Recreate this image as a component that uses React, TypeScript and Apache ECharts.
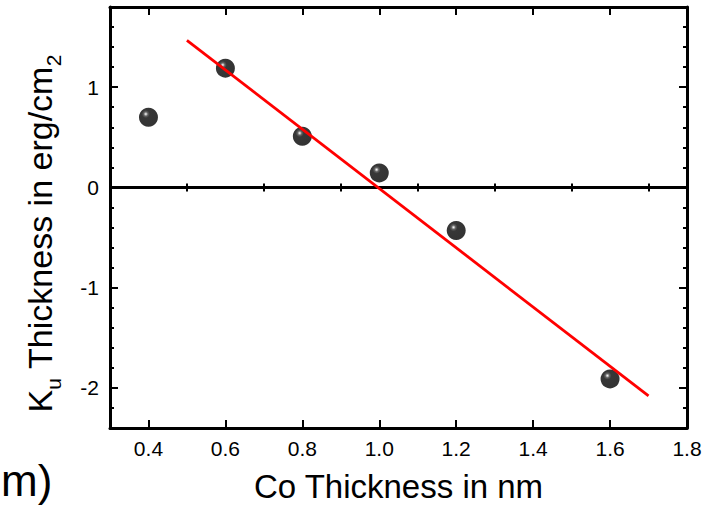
import React, { useEffect, useRef } from "react";
import * as echarts from "echarts";

// Data
const coThickness = [0.4, 0.6, 0.8, 1.0, 1.2, 1.6];
const kuThickness = [0.7, 1.19, 0.51, 0.145, -0.43, -1.91];
const fitX = [0.5, 1.7];
const fitY = [1.468, -2.08];

const xMajorTicks = [0.4, 0.6, 0.8, 1.0, 1.2, 1.4, 1.6, 1.8];
const xMinorTicks = [0.5, 0.7, 0.9, 1.1, 1.3, 1.5, 1.7];
const yMajorTicks = [-2, -1, 0, 1];
const yMinorTicks = [-2.2, -1.8, -1.6, -1.4, -1.2, -0.8, -0.6, -0.4, -0.2, 0.2, 0.4, 0.6, 0.8, 1.2, 1.4, 1.6];

const X_MIN = 0.3;
const X_MAX = 1.8;
const Y_MIN = -2.4;
const Y_MAX = 1.8;

const FONT = '"Liberation Sans", Arial, Helvetica, sans-serif';

export default function App() {
  const ref = useRef<HTMLDivElement>(null);

  useEffect(() => {
    if (!ref.current) return;
    const chart = echarts.init(ref.current, undefined, { renderer: "svg" });

    const frameLine = { show: true, onZero: false, lineStyle: { color: "#000", width: 3 } };
    const noLine = { show: false };

    const mkX = (position: string, ticks: number[], len: number, labels: boolean, line: boolean) => ({
      type: "value",
      position,
      min: X_MIN,
      max: X_MAX,
      axisLine: line ? frameLine : noLine,
      axisTick: {
        show: true,
        inside: true,
        length: len,
        customValues: ticks,
        lineStyle: { color: "#000", width: 2 },
      },
      axisLabel: labels
        ? {
            show: true,
            customValues: ticks,
            formatter: (v: number) => v.toFixed(1),
            fontSize: 21,
            fontFamily: FONT,
            color: "#000",
            margin: 10,
          }
        : { show: false },
      splitLine: { show: false },
    });

    const mkY = (position: string, ticks: number[], len: number, labels: boolean, line: boolean) => ({
      type: "value",
      position,
      min: Y_MIN,
      max: Y_MAX,
      axisLine: line ? frameLine : noLine,
      axisTick: {
        show: true,
        inside: true,
        length: len,
        customValues: ticks,
        lineStyle: { color: "#000", width: 2 },
      },
      axisLabel: labels
        ? {
            show: true,
            customValues: ticks,
            formatter: (v: number) => String(Math.round(v)),
            fontSize: 21,
            fontFamily: FONT,
            color: "#000",
            margin: 11,
          }
        : { show: false },
      splitLine: { show: false },
    });

    const xAxes: any[] = [
      mkX("bottom", xMajorTicks, 8, true, true),
      mkX("bottom", xMinorTicks, 4, false, false),
      mkX("top", xMajorTicks, 8, false, true),
      mkX("top", xMinorTicks, 4, false, false),
    ];
    xAxes[0].name = "Co Thickness in nm";
    xAxes[0].nameLocation = "middle";
    xAxes[0].nameGap = 42;
    xAxes[0].nameTextStyle = { fontSize: 33, fontFamily: FONT, color: "#000" };

    const yAxes: any[] = [
      mkY("left", yMajorTicks, 8, true, true),
      mkY("left", yMinorTicks, 4, false, false),
      mkY("right", yMajorTicks, 8, false, true),
      mkY("right", yMinorTicks, 4, false, false),
    ];

    const ball = new echarts.graphic.RadialGradient(0.36, 0.33, 0.7, [
      { offset: 0, color: "#ffffff" },
      { offset: 0.06, color: "#b8b8b8" },
      { offset: 0.16, color: "#3a3a3a" },
      { offset: 0.3, color: "#050505" },
      { offset: 1, color: "#000000" },
    ]);

    const option: any = {
      animation: false,
      backgroundColor: "#fff",
      grid: { left: 110, right: 28, top: 7, bottom: 76, containLabel: false },
      xAxis: xAxes,
      yAxis: yAxes,
      graphic: [
        {
          type: "text",
          x: 40.2,
          y: 233.5,
          rotation: Math.PI / 2,
          style: {
            text: "{m|K}{s|u}{m| Thickness in erg/cm}{p|2}",
            align: "center",
            verticalAlign: "middle",
            rich: {
              m: { fontSize: 34, fontFamily: FONT, fill: "#000", lineHeight: 48, verticalAlign: "middle" },
              s: { fontSize: 21, fontFamily: FONT, fill: "#000", lineHeight: 17, verticalAlign: "bottom" },
              p: { fontSize: 21, fontFamily: FONT, fill: "#000", lineHeight: 19, verticalAlign: "bottom" },
            },
          },
        },
        {
          type: "text",
          x: 1,
          y: 480,
          style: {
            text: "m)",
            fontSize: 44,
            fontFamily: FONT,
            fill: "#000",
            verticalAlign: "middle",
            align: "left",
          },
        },
      ],
      series: [
        {
          type: "scatter",
          xAxisIndex: 0,
          yAxisIndex: 0,
          symbol: "circle",
          symbolSize: 19,
          itemStyle: { color: ball },
          data: coThickness.map((x, i) => [x, kuThickness[i]]),
          z: 3,
          markLine: {
            silent: true,
            symbol: ["none", "none"],
            label: { show: false },
            lineStyle: { color: "#000", width: 3, type: "solid" },
            data: [{ yAxis: 0 }],
            z: 2,
          },
        },
        {
          type: "line",
          xAxisIndex: 0,
          yAxisIndex: 0,
          showSymbol: false,
          symbol: "none",
          lineStyle: { color: "#ff0000", width: 2.8 },
          data: fitX.map((x, i) => [x, fitY[i]]),
          z: 5,
        },
      ],
    };

    chart.setOption(option);
    return () => chart.dispose();
  }, []);

  return (
    <div
      ref={ref}
      style={{ position: "fixed", left: 0, top: 0, width: 715, height: 508, background: "#fff" }}
    />
  );
}
